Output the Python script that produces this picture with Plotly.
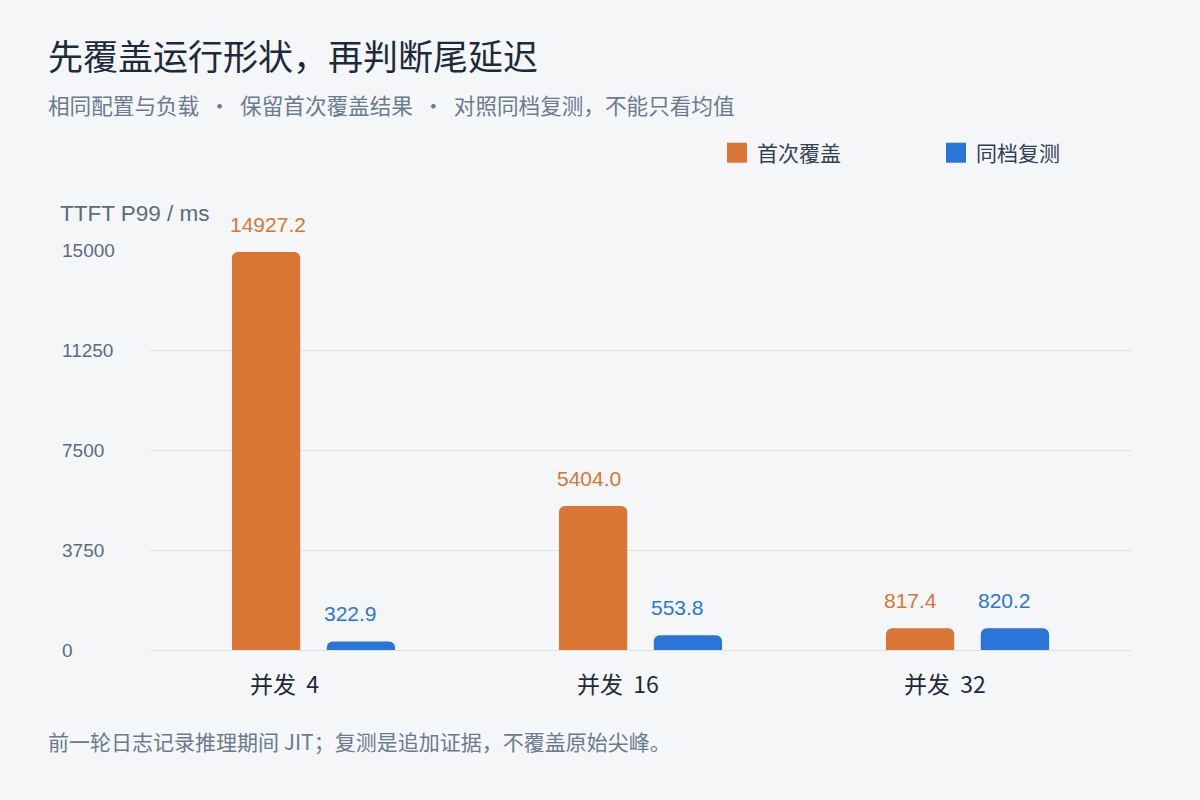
import plotly.graph_objects as go

# 数据
categories = ["并发 4", "并发 16", "并发 32"]
first_run = [14927.2, 5404.0, 817.4]
retest = [322.9, 553.8, 820.2]
y_ticks = [0, 3750, 7500, 11250, 15000]
series_names = ["首次覆盖", "同档复测"]

ORANGE = "#d97634"
BLUE = "#2a76d8"
BG = "#f4f6f8"
GRID = "#dbe2ea"
NUM_FONT = "Liberation Sans, Noto Sans CJK SC, sans-serif"
CJK_FONT = "Noto Sans CJK SC, sans-serif"

# 绘图区像素位置
L, R, T, B = 150, 69, 250, 150
PW, PH = 1200 - L - R, 800 - T - B


def px_x(x):
    return (x - L) / PW


def px_y(y):
    return (800 - B - y) / PH


fig = go.Figure()
for vals, name, color, leg in [(first_run, series_names[0], ORANGE, "legend"),
                               (retest, series_names[1], BLUE, "legend2")]:
    fig.add_trace(go.Bar(x=categories, y=vals, name=name, showlegend=False,
                         marker=dict(color=color, line_width=0)))
    # 图例用的大方块
    fig.add_trace(go.Scatter(x=[None], y=[None], mode="markers", name=name, legend=leg,
                             marker=dict(symbol="square", size=16, color=color,
                                         line=dict(color=color, width=4))))

ann = []
# 数值标签（左对齐到柱子左侧）
for vals, color, shift in [(first_run, ORANGE, -86), (retest, BLUE, 8)]:
    for c, v in zip(categories, vals):
        ann.append(dict(x=c, y=v, xref="x", yref="y", text=f"{v:.1f}",
                        showarrow=False, xshift=shift, yshift=14,
                        xanchor="left", yanchor="bottom",
                        font=dict(size=21, color=color, family=NUM_FONT)))
# 类别标签
for c in categories:
    ann.append(dict(x=c, y=px_y(683), xref="x", yref="paper",
                    text=c.replace(" ", "\u00a0\u00a0"), showarrow=False,
                    xanchor="left", yanchor="middle", xshift=-66,
                    font=dict(size=23, color="#1e293b", family=CJK_FONT)))
# y 轴刻度（左对齐）
for t in y_ticks:
    ann.append(dict(x=px_x(60), y=t, xref="paper", yref="y", text=str(t),
                    showarrow=False, xanchor="left", yanchor="middle",
                    font=dict(size=19, color="#5b6b80", family=NUM_FONT)))

sep = "\u00a0\u00a0·\u00a0\u00a0"
texts = [
    ("先覆盖运行形状，再判断尾延迟", 46, 54, 35, "#1e293b", CJK_FONT),
    ("相同配置与负载" + sep + "保留首次覆盖结果" + sep + "对照同档复测，不能只看均值",
     46, 105, 21.6, "#6b7a8f", CJK_FONT),
    ("TTFT P99 / ms", 58, 214, 22.5, "#5b6b80", NUM_FONT),
    ("前一轮日志记录推理期间 JIT；复测是追加证据，不覆盖原始尖峰。", 46, 741, 21, "#6b7a8f", CJK_FONT),
]
for txt, x, y, size, color, fam in texts:
    ann.append(dict(x=px_x(x), y=px_y(y), xref="paper", yref="paper", text=txt,
                    showarrow=False, xanchor="left", yanchor="middle",
                    font=dict(size=size, color=color, family=fam)))

legend_style = dict(orientation="h", xref="container", yref="container",
                    y=1 - 153 / 800, xanchor="left", yanchor="middle",
                    font=dict(size=21, color="#334155", family=CJK_FONT),
                    bgcolor="rgba(0,0,0,0)")

fig.update_layout(
    width=1200, height=800,
    paper_bgcolor=BG, plot_bgcolor=BG,
    margin=dict(l=L, r=R, t=T, b=B),
    barmode="group", bargap=0.42, bargroupgap=0.28,
    barcornerradius=6,
    font=dict(family=CJK_FONT, color="#1e293b"),
    annotations=ann,
    showlegend=True,
    legend=dict(x=717 / 1200, **legend_style),
    legend2=dict(x=936 / 1200, **legend_style),
    xaxis=dict(showline=False, ticks="", showticklabels=False, showgrid=False),
    yaxis=dict(range=[0, 15000], tickvals=y_ticks, showticklabels=False,
               gridcolor=GRID, zeroline=True, zerolinecolor=GRID, zerolinewidth=1,
               showline=False, ticks=""),
)

fig.write_html("out.html", config={"displayModeBar": False},
               post_script="document.body.style.margin='0';")
